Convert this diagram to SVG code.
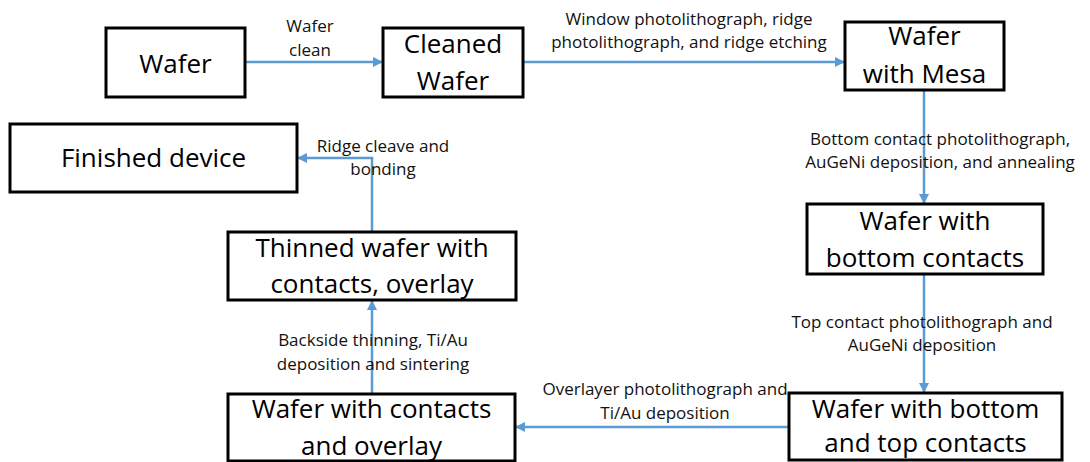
<svg xmlns="http://www.w3.org/2000/svg" width="1090" height="462" viewBox="0 0 1090 462">
<style>
.box{fill:#fff;stroke:#000;stroke-width:3}
.nt{font-family:"Open Sans","Liberation Sans",sans-serif;font-size:26px;fill:#000;text-anchor:middle}
.lb{font-family:"Open Sans","Liberation Sans",sans-serif;font-size:17px;fill:#111;text-anchor:middle}
.cn{fill:none;stroke:#5B9BD5;stroke-width:2.5}
</style>
<defs>
<marker id="ah" viewBox="0 0 10 10" refX="9" refY="5" markerWidth="4" markerHeight="4" orient="auto" markerUnits="strokeWidth">
<path d="M0,0 L10,5 L0,10 z" fill="#5B9BD5"/>
</marker>
</defs>
<rect width="1090" height="462" fill="#fff"/>
<g id="connectors">
<path class="cn" d="M245,62 H382" marker-end="url(#ah)"/>
<path class="cn" d="M523,62 H844" marker-end="url(#ah)"/>
<path class="cn" d="M924,90 V203" marker-end="url(#ah)"/>
<path class="cn" d="M924,274 V392" marker-end="url(#ah)"/>
<path class="cn" d="M789,427 H516" marker-end="url(#ah)"/>
<path class="cn" d="M372,394 V301" marker-end="url(#ah)"/>
<path class="cn" d="M372,232 V158 H298" marker-end="url(#ah)"/>
</g>
<g id="labels">
<text class="lb" x="310" y="32">Wafer</text>
<text class="lb" x="310" y="56">clean</text>
<text class="lb" x="689" y="25">Window photolithograph, ridge</text>
<text class="lb" x="689" y="48">photolithograph, and ridge etching</text>
<text class="lb" x="940" y="145">Bottom contact photolithograph,</text>
<text class="lb" x="940" y="168">AuGeNi deposition, and annealing</text>
<text class="lb" x="922" y="328">Top contact photolithograph and</text>
<text class="lb" x="922" y="351">AuGeNi deposition</text>
<text class="lb" x="665" y="395">Overlayer photolithograph and</text>
<text class="lb" x="665" y="419">Ti/Au deposition</text>
<text class="lb" x="373" y="346">Backside thinning, Ti/Au</text>
<text class="lb" x="373" y="370">deposition and sintering</text>
<text class="lb" x="383" y="152">Ridge cleave and</text>
<text class="lb" x="383" y="175">bonding</text>
</g>
<g id="n-wafer"><rect class="box" x="106" y="28" width="139" height="69"/><text class="nt" x="175.5" y="73">Wafer</text></g>
<g id="n-cleaned"><rect class="box" x="383" y="28" width="140" height="69"/><text class="nt" x="453" y="53">Cleaned</text><text class="nt" x="453" y="90">Wafer</text></g>
<g id="n-mesa"><rect class="box" x="845" y="22" width="159" height="68"/><text class="nt" x="924.5" y="45">Wafer</text><text class="nt" x="924.5" y="83">with Mesa</text></g>
<g id="n-bottom"><rect class="box" x="807" y="204" width="236" height="70"/><text class="nt" x="925" y="230">Wafer with</text><text class="nt" x="925" y="267">bottom contacts</text></g>
<g id="n-bottomtop"><rect class="box" x="789" y="393" width="273" height="67"/><text class="nt" x="925.5" y="418">Wafer with bottom</text><text class="nt" x="925.5" y="452">and top contacts</text></g>
<g id="n-overlay"><rect class="box" x="228" y="394" width="287" height="67"/><text class="nt" x="371.5" y="418">Wafer with contacts</text><text class="nt" x="371.5" y="455">and overlay</text></g>
<g id="n-thinned"><rect class="box" x="228" y="232" width="288" height="68"/><text class="nt" x="372" y="257">Thinned wafer with</text><text class="nt" x="372" y="293">contacts, overlay</text></g>
<g id="n-finished"><rect class="box" x="10" y="124" width="287" height="68"/><text class="nt" x="153.5" y="167">Finished device</text></g>
</svg>
